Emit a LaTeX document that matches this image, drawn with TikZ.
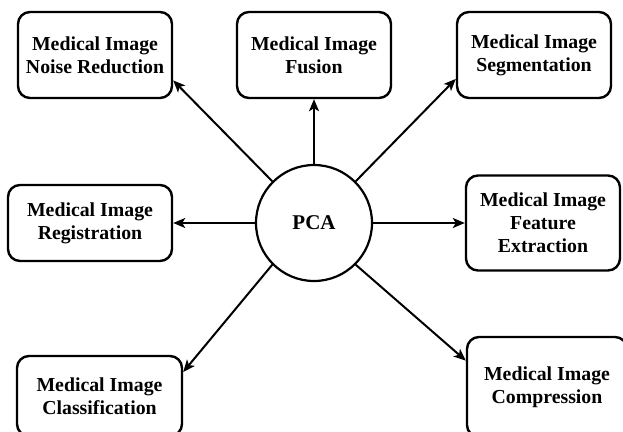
\documentclass[tikz,border=0pt]{standalone}
\usepackage{fontspec}
\setmainfont{Liberation Serif}
\usepackage{tikz}
\usetikzlibrary{arrows.meta,shapes.geometric}

\begin{document}
\begin{tikzpicture}[x=1pt, y=-1pt]

\tikzstyle{box}=[rectangle, draw, line width=2.4pt, rounded corners=12pt, align=center, inner sep=0pt, font=\bfseries\fontsize{19.8}{23}\selectfont]
\tikzstyle{hub}=[circle, draw, line width=2.2pt, minimum size=116pt, inner sep=0pt, font=\bfseries\fontsize{21}{23}\selectfont]
\tikzstyle{arrow}=[-{Stealth[length=12pt,width=10pt,inset=3pt]}, line width=2pt]

\useasboundingbox (0,0) rectangle (623,431);
\clip (0,0) rectangle (623,431);

\node (P) [hub] at (314,223) {PCA};

\node (N) [box, minimum width=154pt, minimum height=86pt] at (95,55)   {Medical Image\\ Noise Reduction};
\node (F) [box, minimum width=154pt, minimum height=86pt] at (314,55)  {Medical Image\\ Fusion};
\node (S) [box, minimum width=154pt, minimum height=86pt] at (534,55)  {Medical Image\\ Segmentation};
\node (R) [box, minimum width=164pt, minimum height=76pt] at (90,223)  {Medical Image\\ Registration};
\node (E) [box, minimum width=154pt, minimum height=95pt] at (543,223) {Medical Image\\ Feature\\ Extraction};
\node (C) [box, minimum width=165pt, minimum height=80pt] at (99.5,396) {Medical Image\\ Classification};
\node (M) [box, minimum width=160pt, minimum height=100pt] at (547,387) {Medical Image\\ Compression};

\draw [arrow] (P.135) -- (N.-18);
\draw [arrow] (P) -- (F);
\draw [arrow] (P.45) -- (S.197);
\draw [arrow] (P) -- (R);
\draw [arrow] (P) -- (E);
\draw [arrow] (P.225) -- (C.16);
\draw [arrow] (P.315) -- (M.162);

\end{tikzpicture}
\end{document}
